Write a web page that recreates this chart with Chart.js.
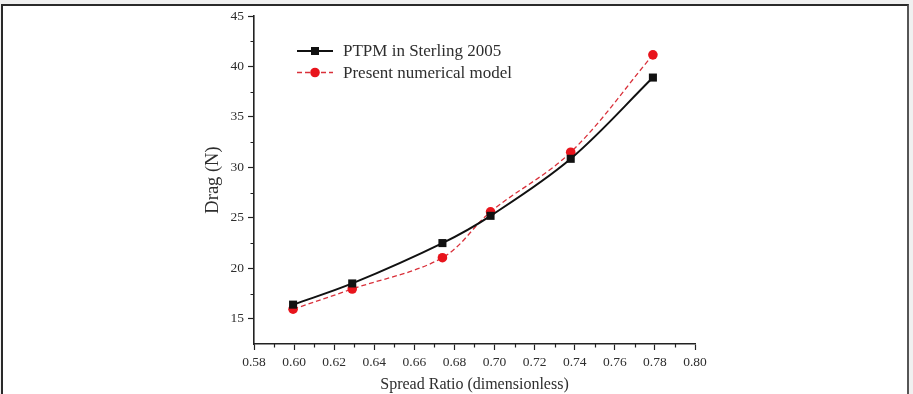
<!DOCTYPE html>
<html>
<head>
<meta charset="utf-8">
<script src="https://cdn.jsdelivr.net/npm/chart.js@4/dist/chart.umd.min.js"></script>
<style>
  html, body { margin: 0; padding: 0; background: #f0f0f0; }
  #wrap { position: relative; width: 913px; height: 394px; overflow: hidden; }
  #frame { position: absolute; left: 1px; top: 4px; width: 904px; height: 400px;
           background: #fff; border-top: 2px solid #2a2a2a; border-left: 2px solid #2a2a2a; border-right: 2px solid #555; }
  #c { position: absolute; left: 0; top: 0; }
</style>
</head>
<body>
<div id="wrap">
  <div id="frame"></div>
  <canvas id="c" width="913" height="394"></canvas>
</div>
<script>
// ---- data ----
const spreadRatio = [0.5995, 0.629, 0.674, 0.698, 0.738, 0.779];
const ptpmSterling = [16.4, 18.5, 22.5, 25.2, 30.85, 38.9];
const presentModel = [15.95, 17.95, 21.05, 25.6, 31.5, 41.15];
const seriesNames = ["PTPM in Sterling 2005", "Present numerical model"];
const xTitle = "Spread Ratio (dimensionless)";
const yTitle = "Drag (N)";
const xMinorTicks = [0.59, 0.61, 0.63, 0.65, 0.67, 0.69, 0.71, 0.73, 0.75, 0.77, 0.79];
const yMinorTicks = [17.5, 22.5, 27.5, 32.5, 37.5, 42.5];

const SERIF = "'Liberation Serif', 'Times New Roman', serif";
const AXIS = '#222';
const TEXT = '#2e2e2e';

const minorTicks = {
  id: 'minorTicks',
  afterDraw(chart) {
    const ctx = chart.ctx;
    const xs = chart.scales.x, ys = chart.scales.y;
    const ca = chart.chartArea;
    ctx.save();
    ctx.strokeStyle = AXIS;
    ctx.lineWidth = 1.2;
    ctx.beginPath();
    xMinorTicks.forEach(v => {
      const px = Math.round(xs.getPixelForValue(v)) + 0.5;
      ctx.moveTo(px, ca.bottom); ctx.lineTo(px, ca.bottom + 3.5);
    });
    yMinorTicks.forEach(v => {
      const py = Math.round(ys.getPixelForValue(v)) + 0.5;
      ctx.moveTo(ca.left, py); ctx.lineTo(ca.left - 3.5, py);
    });
    ctx.stroke();
    ctx.restore();
  }
};

const insideLegend = {
  id: 'insideLegend',
  afterDraw(chart) {
    const ctx = chart.ctx;
    const ca = chart.chartArea;
    ctx.save();
    chart.data.datasets.forEach((ds, i) => {
      const y = ca.top + 35 + i * 21.5;
      const x0 = ca.left + 43, x1 = ca.left + 79, xm = ca.left + 61;
      ctx.strokeStyle = ds.borderColor;
      ctx.lineWidth = ds.borderWidth;
      ctx.setLineDash(ds.borderDash || []);
      ctx.beginPath(); ctx.moveTo(x0, y); ctx.lineTo(x1, y); ctx.stroke();
      ctx.setLineDash([]);
      ctx.fillStyle = ds.pointBackgroundColor;
      if (ds.pointStyle === 'rect') {
        const h = 4;
        ctx.fillRect(xm - h, y - h, 2 * h, 2 * h);
      } else {
        ctx.beginPath(); ctx.arc(xm, y, 4.8, 0, Math.PI * 2); ctx.fill();
      }
      ctx.fillStyle = TEXT;
      ctx.font = "17px " + SERIF;
      ctx.textBaseline = 'middle';
      ctx.textAlign = 'left';
      ctx.fillText(ds.label, ca.left + 89, y + 1);
    });
    ctx.restore();
  }
};

const toPoints = (xs, ys) => xs.map((x, i) => ({ x: x, y: ys[i] }));

new Chart(document.getElementById('c'), {
  type: 'line',
  data: {
    datasets: [
      {
        label: seriesNames[0],
        data: toPoints(spreadRatio, ptpmSterling),
        borderColor: '#111',
        backgroundColor: '#111',
        borderWidth: 2,
        pointStyle: 'rect',
        pointRadius: 5.7,
        pointBackgroundColor: '#111',
        pointBorderWidth: 0,
        tension: 0.35,
        fill: false
      },
      {
        label: seriesNames[1],
        data: toPoints(spreadRatio, presentModel),
        borderColor: '#d9303a',
        backgroundColor: '#e8141c',
        borderWidth: 1.3,
        borderDash: [5, 3],
        pointStyle: 'circle',
        pointRadius: 4.8,
        pointBackgroundColor: '#e8141c',
        pointBorderWidth: 0,
        tension: 0.35,
        fill: false
      }
    ]
  },
  options: {
    responsive: false,
    animation: false,
    events: [],
    layout: { padding: { left: 200, right: 218, top: 16, bottom: 0 } },
    plugins: { legend: { display: false }, tooltip: { enabled: false }, title: { display: false } },
    scales: {
      x: {
        type: 'linear',
        min: 0.58, max: 0.80,
        afterFit: s => { s.height = 50; },
        afterBuildTicks: s => { s.ticks = s.ticks.filter(t => Math.abs(Math.round(t.value * 50) - t.value * 50) < 1e-6); },
        ticks: { stepSize: 0.02, callback: v => Number(v).toFixed(2), color: TEXT, font: { family: SERIF, size: 13.5 }, padding: 4, maxRotation: 0, autoSkip: false },
        grid: { drawOnChartArea: false, drawTicks: true, tickLength: 6, tickColor: AXIS, tickWidth: 1.2 },
        border: { display: true, color: AXIS, width: 1.6 },
        title: { display: true, text: xTitle, color: TEXT, font: { family: SERIF, size: 16 }, padding: { top: 5, bottom: 0 } }
      },
      y: {
        type: 'linear',
        min: 12.5, max: 45,
        afterFit: s => { s.width = 54; },
        afterBuildTicks: s => { s.ticks = s.ticks.filter(t => Math.abs(t.value % 5) < 1e-6); },
        ticks: { stepSize: 5, color: TEXT, font: { family: SERIF, size: 13.5 }, padding: 4 },
        grid: { drawOnChartArea: false, drawTicks: true, tickLength: 6, tickColor: AXIS, tickWidth: 1.2 },
        border: { display: true, color: AXIS, width: 1.6 },
        title: { display: true, text: yTitle, color: TEXT, font: { family: SERIF, size: 18.5 }, padding: { top: 2, bottom: 0 } }
      }
    }
  },
  plugins: [minorTicks, insideLegend]
});
</script>
</body>
</html>
